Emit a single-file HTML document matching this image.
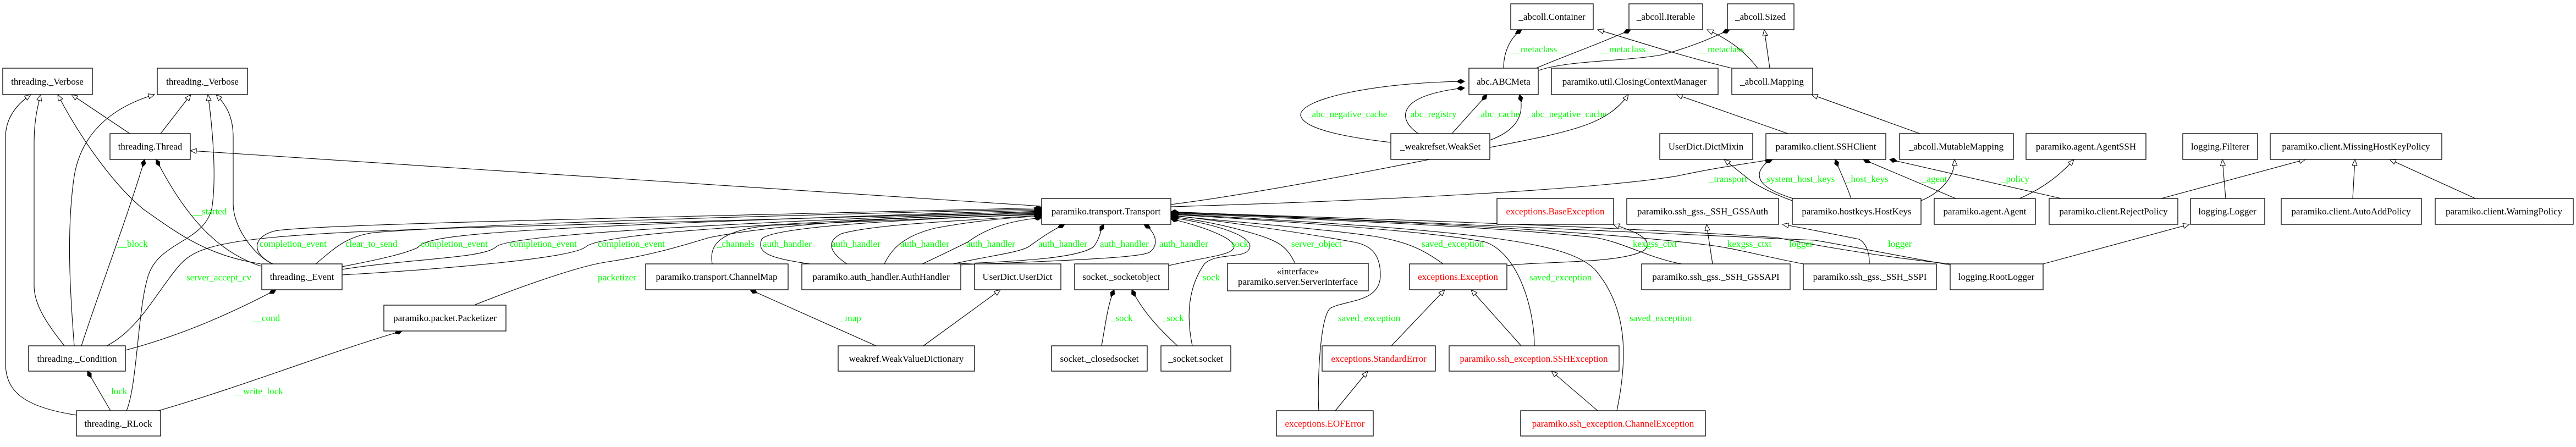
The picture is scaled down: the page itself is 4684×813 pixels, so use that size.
<!DOCTYPE html>
<html><head><meta charset="utf-8"><style>
html,body{margin:0;padding:0;background:#fff;}
svg{display:block;}
text{font-family:"Liberation Serif",serif;font-size:17px;}
.n{fill:#fff;stroke:#000;stroke-width:1.3;}
.e{fill:none;stroke:#000;stroke-width:1.1;}
.l{fill:#00ff00;}
.t{fill:#000;text-anchor:middle;}
.r{fill:#ff0000;text-anchor:middle;}
</style></head><body>
<svg width="4684" height="813" viewBox="0 0 4684 813" xmlns="http://www.w3.org/2000/svg">
<defs>
<marker id="tri" markerUnits="userSpaceOnUse" markerWidth="14" markerHeight="12" refX="12" refY="5" orient="auto"><path d="M1,0.5 L12,5 L1,9.5 Z" fill="#fff" stroke="#000" stroke-width="1"/></marker>
<marker id="dia" markerUnits="userSpaceOnUse" markerWidth="16" markerHeight="10" refX="14" refY="4.5" orient="auto"><path d="M0,4.5 L7,0.5 L14,4.5 L7,8.5 Z" fill="#000" stroke="#000"/></marker>
</defs>
<g class="e">
<!-- left threading cluster -->
<path marker-end="url(#tri)" d="M139,755 C40,740 10,710 10,660 L10,250 C10,215 30,190 56,172"/>
<path marker-end="url(#tri)" d="M117,629 C95,600 62,560 62,520 L62,260 C62,220 68,195 74,172"/>
<path marker-end="url(#tri)" d="M474,480 C380,465 330,430 260,380 C200,330 140,240 105,172"/>
<path marker-end="url(#tri)" d="M236,243 L130,172"/>
<path marker-end="url(#tri)" d="M135,629 C128,540 120,420 135,320 C150,230 220,190 281,172"/>
<path marker-end="url(#tri)" d="M292,243 L347,172"/>
<path marker-end="url(#tri)" d="M230,747 C250,700 250,560 270,500 C290,440 370,440 385,380 C395,320 385,220 378,172"/>
<path marker-end="url(#tri)" d="M496,480 C470,470 424,420 424,370 L424,250 C424,210 410,190 393,172"/>
<path marker-end="url(#tri)" d="M1894,375 L346,274"/>
<path marker-end="url(#dia)" d="M148,629 C180,530 230,400 263,290"/>
<path marker-end="url(#dia)" d="M474,484 C400,460 340,400 284,290"/>
<path marker-end="url(#dia)" d="M228,637 C330,610 420,570 502,527"/>
<path marker-end="url(#dia)" d="M201,747 L159,675"/>
<path marker-end="url(#dia)" d="M288,747 C450,700 600,640 731,602"/>
<path marker-end="url(#dia)" d="M194,629 C250,600 280,540 320,490 C360,440 400,425 1000,410 L1894,385"/>
<path marker-end="url(#dia)" d="M496,480 C455,460 460,430 500,420 C560,408 1200,395 1894,378"/>
<path marker-end="url(#dia)" d="M574,480 C610,450 630,430 680,423 C900,405 1500,390 1894,380"/>
<path marker-end="url(#dia)" d="M622,485 C700,470 740,460 760,450 C780,425 900,415 1894,382"/>
<path marker-end="url(#dia)" d="M622,490 C750,470 880,470 902,449 C920,430 1200,410 1894,384"/>
<path marker-end="url(#dia)" d="M622,500 C800,490 1040,470 1065,449 C1090,425 1400,405 1894,386"/>
<path marker-end="url(#dia)" d="M862,555 C950,520 1050,485 1100,477 C1180,465 1230,450 1290,432 C1400,410 1600,395 1894,388"/>
<path marker-end="url(#dia)" d="M1295,480 C1290,450 1300,420 1400,410 L1894,389"/>
<path marker-end="url(#dia)" d="M1473,480 C1400,470 1375,460 1385,435 C1400,415 1600,400 1894,390"/>
<path marker-end="url(#dia)" d="M1540,480 C1510,460 1500,440 1530,425 C1600,405 1800,400 1894,391"/>
<path marker-end="url(#dia)" d="M1608,480 C1620,455 1640,430 1700,415 C1780,400 1850,395 1894,393"/>
<path marker-end="url(#dia)" d="M1677,480 C1720,460 1740,450 1760,440 C1800,410 1850,400 1894,396"/>
<path marker-end="url(#dia)" d="M1733,480 C1800,465 1850,460 1870,449 C1890,435 1910,420 1936,408"/>
<path marker-end="url(#dia)" d="M1740,480 C1850,475 1960,470 1988,449 C2000,435 2000,420 2007,408"/>
<path marker-end="url(#dia)" d="M1745,482 C1900,475 2070,470 2090,459 C2110,445 2100,420 2080,408"/>
<path marker-end="url(#dia)" d="M1593,629 L1364,527"/>
<path marker-end="url(#tri)" d="M1679,629 L1819,527"/>
<path marker-end="url(#dia)" d="M2003,629 C2010,590 2015,550 2026,527"/>
<path marker-end="url(#dia)" d="M2141,629 C2110,600 2080,570 2058,527"/>
<!-- right side to Transport -->
<path marker-end="url(#dia)" d="M2125,483 C2180,470 2230,465 2240,455 C2260,440 2200,415 2129,398"/>
<path marker-end="url(#dia)" d="M2168,629 C2160,590 2155,530 2190,480 C2210,460 2260,470 2270,455 C2290,430 2200,405 2129,396"/>
<path marker-end="url(#dia)" d="M2355,479 C2340,450 2330,440 2280,425 C2230,410 2180,400 2129,394"/>
<path marker-end="url(#dia)" d="M2624,480 C2590,455 2560,440 2500,430 C2400,415 2200,400 2129,392"/>
<path marker-end="url(#dia)" d="M2398,747 C2395,700 2400,570 2420,560 C2450,545 2510,550 2510,500 C2510,460 2490,445 2460,440 C2350,420 2200,400 2129,391"/>
<path marker-end="url(#dia)" d="M2790,629 C2790,560 2760,460 2700,440 C2600,420 2300,400 2129,390"/>
<path marker-end="url(#dia)" d="M2940,747 C2960,650 2960,560 2900,490 C2850,440 2700,420 2129,389"/>
<path marker-end="url(#dia)" d="M3058,480 C3000,470 2950,440 2900,432 C2700,410 2300,395 2129,388"/>
<path marker-end="url(#dia)" d="M3279,480 C3200,465 3150,450 3100,445 C2900,420 2500,400 2129,387"/>
<path marker-end="url(#dia)" d="M3546,480 C3400,465 3270,440 3230,432 C2900,410 2400,395 2129,386"/>
<path marker-end="url(#dia)" d="M3546,482 C3450,465 3350,445 3300,437 C3000,425 2500,400 2129,385"/>
<path marker-end="url(#dia)" d="M2129,376 C2500,365 2900,345 3050,320 C3120,305 3160,300 3223,290"/>
<path marker-end="url(#tri)" d="M2129,372 C2300,350 2550,300 2700,270 C2850,240 2920,230 2961,172"/>
<path marker-end="url(#tri)" d="M3251,243 C3200,225 3100,190 3048,172"/>
<!-- abc cluster -->
<path marker-end="url(#tri)" d="M3149,124 C3050,100 2960,70 2905,54"/>
<path marker-end="url(#tri)" d="M3196,124 C3170,90 3140,70 3104,54"/>
<path marker-end="url(#tri)" d="M3218,124 L3208,54"/>
<path marker-end="url(#dia)" d="M2734,124 C2734,90 2750,65 2767,54"/>
<path marker-end="url(#dia)" d="M2793,124 C2850,100 2920,75 2965,54"/>
<path marker-end="url(#dia)" d="M2798,128 C2850,110 2950,112 3020,100 C3080,85 3120,65 3145,54"/>
<path marker-end="url(#dia)" d="M2529,259 C2450,250 2370,235 2365,210 C2362,180 2500,150 2663,148"/>
<path marker-end="url(#dia)" d="M2579,243 C2560,230 2545,210 2565,190 C2585,170 2640,162 2663,160"/>
<path marker-end="url(#dia)" d="M2640,243 L2704,172"/>
<path marker-end="url(#dia)" d="M2709,255 C2750,240 2775,215 2763,172"/>
<path marker-end="url(#tri)" d="M3491,243 L3294,172"/>
<!-- exceptions -->
<path marker-end="url(#tri)" d="M2740,483 C2800,475 2950,480 2990,455 C3010,435 2970,420 2933,408"/>
<path marker-end="url(#tri)" d="M2530,629 L2627,527"/>
<path marker-end="url(#tri)" d="M2766,629 L2675,527"/>
<path marker-end="url(#tri)" d="M2428,747 L2487,675"/>
<path marker-end="url(#tri)" d="M2905,747 L2821,675"/>
<!-- ssh client cluster -->
<path marker-end="url(#dia)" d="M3260,361 C3210,345 3195,330 3200,312 C3205,300 3215,293 3223,290"/>
<path marker-end="url(#dia)" d="M3366,361 C3355,330 3345,310 3337,290"/>
<path marker-end="url(#dia)" d="M3556,361 L3388,290"/>
<path marker-end="url(#dia)" d="M3748,361 L3436,290"/>
<path marker-end="url(#tri)" d="M3259,365 C3230,355 3200,340 3185,330 L3135,290"/>
<path marker-end="url(#tri)" d="M3493,365 C3530,350 3555,320 3554,290"/>
<path marker-end="url(#tri)" d="M3672,361 C3710,345 3745,320 3771,290"/>
<path marker-end="url(#tri)" d="M3930,361 L4192,290"/>
<path marker-end="url(#tri)" d="M4047,361 L4041,290"/>
<path marker-end="url(#tri)" d="M4278,361 L4282,290"/>
<path marker-end="url(#tri)" d="M4501,361 L4345,290"/>
<path marker-end="url(#tri)" d="M3715,480 L3981,408"/>
<path marker-end="url(#tri)" d="M3399,480 C3400,455 3390,440 3380,435 C3330,425 3280,415 3241,408"/>
<path marker-end="url(#tri)" d="M3114,480 L3103,408"/>
</g>
<g class="n">
<rect x="5" y="124" width="163" height="48"/>
<rect x="286" y="124" width="164" height="48"/>
<rect x="200" y="243" width="146" height="47"/>
<rect x="476" y="480" width="146" height="47"/>
<rect x="698" y="555" width="222" height="47"/>
<rect x="52" y="629" width="176" height="46"/>
<rect x="139" y="747" width="153" height="46"/>
<rect x="1174" y="480" width="259" height="47"/>
<rect x="1458" y="480" width="289" height="47"/>
<rect x="1524" y="629" width="248" height="46"/>
<rect x="1894" y="361" width="235" height="47"/>
<rect x="1772" y="480" width="157" height="47"/>
<rect x="1954" y="480" width="171" height="47"/>
<rect x="1912" y="629" width="174" height="46"/>
<rect x="2111" y="629" width="127" height="46"/>
<rect x="2232" y="479" width="256" height="50"/>
<rect x="2321" y="747" width="176" height="46"/>
<rect x="2747" y="7" width="150" height="47"/>
<rect x="2962" y="7" width="134" height="47"/>
<rect x="3141" y="7" width="121" height="47"/>
<rect x="2671" y="124" width="126" height="48"/>
<rect x="2821" y="124" width="303" height="48"/>
<rect x="3149" y="124" width="147" height="48"/>
<rect x="2529" y="243" width="180" height="47"/>
<rect x="3018" y="243" width="169" height="47"/>
<rect x="2722" y="361" width="212" height="47"/>
<rect x="2958" y="361" width="276" height="47"/>
<rect x="2563" y="480" width="177" height="47"/>
<rect x="2985" y="480" width="270" height="47"/>
<rect x="2404" y="629" width="206" height="46"/>
<rect x="2635" y="629" width="309" height="46"/>
<rect x="2765" y="747" width="336" height="46"/>
<rect x="3211" y="243" width="218" height="47"/>
<rect x="3454" y="243" width="207" height="47"/>
<rect x="3684" y="243" width="218" height="47"/>
<rect x="3969" y="243" width="136" height="47"/>
<rect x="3259" y="361" width="234" height="47"/>
<rect x="3517" y="361" width="184" height="47"/>
<rect x="3726" y="361" width="234" height="47"/>
<rect x="3983" y="361" width="135" height="47"/>
<rect x="3279" y="480" width="242" height="47"/>
<rect x="3546" y="480" width="169" height="47"/>
<rect x="4128" y="243" width="312" height="47"/>
<rect x="4148" y="361" width="255" height="47"/>
<rect x="4428" y="361" width="251" height="47"/>
</g>
<g>
<text class="t" x="86" y="154">threading._Verbose</text>
<text class="t" x="368" y="154">threading._Verbose</text>
<text class="t" x="273" y="272">threading.Thread</text>
<text class="t" x="549" y="509">threading._Event</text>
<text class="t" x="809" y="584">paramiko.packet.Packetizer</text>
<text class="t" x="140" y="658">threading._Condition</text>
<text class="t" x="215" y="776">threading._RLock</text>
<text class="t" x="1303" y="509">paramiko.transport.ChannelMap</text>
<text class="t" x="1602" y="509">paramiko.auth_handler.AuthHandler</text>
<text class="t" x="1648" y="658">weakref.WeakValueDictionary</text>
<text class="t" x="2011" y="390">paramiko.transport.Transport</text>
<text class="t" x="1850" y="509">UserDict.UserDict</text>
<text class="t" x="2039" y="509">socket._socketobject</text>
<text class="t" x="1999" y="658">socket._closedsocket</text>
<text class="t" x="2174" y="658">_socket.socket</text>
<text class="t" x="2360" y="499">«interface»</text>
<text class="t" x="2360" y="518">paramiko.server.ServerInterface</text>
<text class="r" x="2409" y="776">exceptions.EOFError</text>
<text class="t" x="2822" y="36">_abcoll.Container</text>
<text class="t" x="3029" y="36">_abcoll.Iterable</text>
<text class="t" x="3201" y="36">_abcoll.Sized</text>
<text class="t" x="2734" y="154">abc.ABCMeta</text>
<text class="t" x="2972" y="154">paramiko.util.ClosingContextManager</text>
<text class="t" x="3222" y="154">_abcoll.Mapping</text>
<text class="t" x="2619" y="272">_weakrefset.WeakSet</text>
<text class="t" x="3102" y="272">UserDict.DictMixin</text>
<text class="r" x="2828" y="390">exceptions.BaseException</text>
<text class="t" x="3096" y="390">paramiko.ssh_gss._SSH_GSSAuth</text>
<text class="r" x="2651" y="509">exceptions.Exception</text>
<text class="t" x="3120" y="509">paramiko.ssh_gss._SSH_GSSAPI</text>
<text class="r" x="2507" y="658">exceptions.StandardError</text>
<text class="r" x="2789" y="658">paramiko.ssh_exception.SSHException</text>
<text class="r" x="2933" y="776">paramiko.ssh_exception.ChannelException</text>
<text class="t" x="3320" y="272">paramiko.client.SSHClient</text>
<text class="t" x="3557" y="272">_abcoll.MutableMapping</text>
<text class="t" x="3793" y="272">paramiko.agent.AgentSSH</text>
<text class="t" x="4037" y="272">logging.Filterer</text>
<text class="t" x="3376" y="390">paramiko.hostkeys.HostKeys</text>
<text class="t" x="3609" y="390">paramiko.agent.Agent</text>
<text class="t" x="3843" y="390">paramiko.client.RejectPolicy</text>
<text class="t" x="4050" y="390">logging.Logger</text>
<text class="t" x="3400" y="509">paramiko.ssh_gss._SSH_SSPI</text>
<text class="t" x="3630" y="509">logging.RootLogger</text>
<text class="t" x="4284" y="272">paramiko.client.MissingHostKeyPolicy</text>
<text class="t" x="4275" y="390">paramiko.client.AutoAddPolicy</text>
<text class="t" x="4553" y="390">paramiko.client.WarningPolicy</text>
</g>
<g class="l">
<text x="350" y="390">__started</text>
<text x="214" y="449">__block</text>
<text x="459" y="584">__cond</text>
<text x="185" y="717">__lock</text>
<text x="425" y="717">__write_lock</text>
<text x="339" y="510">server_accept_cv</text>
<text x="472" y="449">completion_event</text>
<text x="628" y="449">clear_to_send</text>
<text x="765" y="449">completion_event</text>
<text x="927" y="449">completion_event</text>
<text x="1087" y="449">completion_event</text>
<text x="1087" y="510">packetizer</text>
<text x="1304" y="449">_channels</text>
<text x="1387" y="449">auth_handler</text>
<text x="1512" y="449">auth_handler</text>
<text x="1637" y="449">auth_handler</text>
<text x="1757" y="449">auth_handler</text>
<text x="1888" y="449">auth_handler</text>
<text x="2000" y="449">auth_handler</text>
<text x="2108" y="449">auth_handler</text>
<text x="2239" y="449">sock</text>
<text x="2187" y="510">sock</text>
<text x="1528" y="584">_map</text>
<text x="2020" y="584">_sock</text>
<text x="2113" y="584">_sock</text>
<text x="2348" y="449">server_object</text>
<text x="2585" y="449">saved_exception</text>
<text x="2781" y="510">saved_exception</text>
<text x="2433" y="584">saved_exception</text>
<text x="2963" y="584">saved_exception</text>
<text x="2969" y="449">kexgss_ctxt</text>
<text x="3141" y="449">kexgss_ctxt</text>
<text x="3253" y="449">logger</text>
<text x="3433" y="449">logger</text>
<text x="2748" y="95">__metaclass__</text>
<text x="2909" y="95">__metaclass__</text>
<text x="3088" y="95">__metaclass__</text>
<text x="2377" y="213">_abc_negative_cache</text>
<text x="2556" y="213">_abc_registry</text>
<text x="2684" y="213">_abc_cache</text>
<text x="2776" y="213">_abc_negative_cache</text>
<text x="3108" y="331">_transport</text>
<text x="3204" y="331">_system_host_keys</text>
<text x="3357" y="331">_host_keys</text>
<text x="3495" y="331">_agent</text>
<text x="3639" y="331">_policy</text>
</g>
</svg>
</body></html>
